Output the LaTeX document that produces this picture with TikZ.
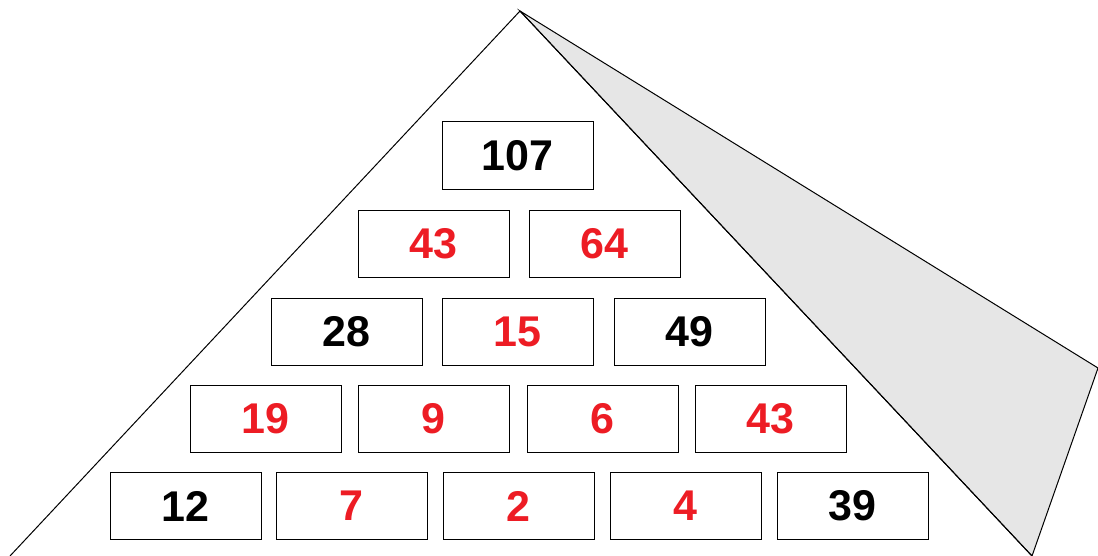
\documentclass[tikz,border=0pt]{standalone}
\usepackage{fontspec}
\setmainfont{Liberation Sans}
\usepackage{tikz}
\usetikzlibrary{positioning}
\usepackage{xcolor}
\definecolor{cRed}{RGB}{237,28,36}
\definecolor{cFlap}{RGB}{230,230,230}
\tikzset{
  brick/.style={rectangle, draw=black, line width=0.5pt, fill=white,
                minimum width=75.5pt, minimum height=33.5pt,
                inner sep=0pt, font=\fontsize{21.5}{24}\selectfont\bfseries},
  given/.style={brick, text=black},
  found/.style={brick, text=cRed},
  edge/.style={line width=0.5pt, draw=black}
}
\begin{document}
\begin{tikzpicture}[x=0.5pt, y=-0.5pt]
  \useasboundingbox (0,0) rectangle (1098,556);
  \clip (0,0) rectangle (1098,556);

  % pyramid outline and the turned-back flap
  \coordinate (apex) at (520,11);
  \coordinate (baseL) at (10,556);
  \coordinate (baseR) at (1032,556);
  \coordinate (flapT) at (1098,368);
  \filldraw[edge, fill=cFlap] (apex) -- (flapT) -- (baseR) -- cycle;
  \draw[edge] (baseL) -- (apex) -- (baseR);

  % bricks: name / x / y / style / value
  \foreach \name/\x/\y/\kind/\val in {
      ra/517.5/155.5/given/107,
      rba/433.5/243.5/found/43, rbb/604.5/243.5/found/64,
      rca/346.5/332/given/28, rcb/517.5/332/found/15, rcc/689.5/332/given/49,
      rda/265.5/419/found/19, rdb/433.5/419/found/9,
      rdc/602.5/419/found/6, rdd/770.5/419/found/43,
      rea/185.5/506/given/12, reb/351.5/506/found/7, rec/518.5/506/found/2,
      red/685.5/506/found/4, ree/852.5/506/given/39}
    \node[\kind] (\name) at (\x,\y) {\val};
\end{tikzpicture}
\end{document}
